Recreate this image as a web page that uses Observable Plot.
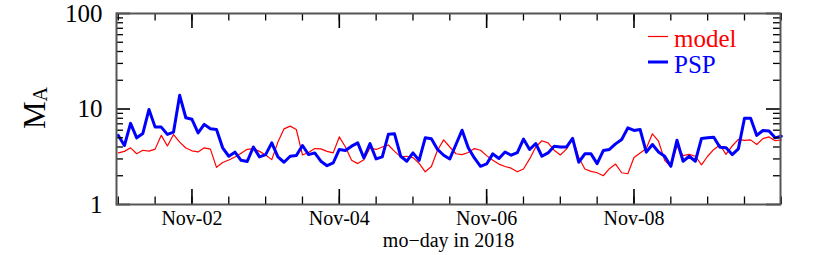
<!DOCTYPE html>
<html><head><meta charset="utf-8">
<script src="https://cdn.jsdelivr.net/npm/d3@7"></script>
<script src="https://cdn.jsdelivr.net/npm/@observablehq/plot@0.6"></script>
<style>body{margin:0;background:#fff}</style>
</head><body><div id="chart"></div>
<script>
const startTime = Date.UTC(2018, 10, 1);
const cadenceHours = 2;
const psp = [
  5.29, 4.15, 7.07, 4.99, 5.55, 9.9, 6.46, 6.46, 5.42, 5.73,
  13.9, 8.1, 7.8, 5.63, 6.9, 6.2, 6.1, 3.92, 3.2, 3.53,
  2.9, 2.82, 4.0, 3.15, 3.33, 4.42, 3.15, 2.77, 3.2, 3.26,
  4.15, 3.33, 3.47, 2.84, 2.55, 2.72, 3.77, 3.67, 4.08, 4.42,
  3.07, 4.35, 3.0, 3.15, 5.45, 5.5, 3.2, 2.84, 3.47, 2.9,
  4.99, 4.87, 3.77, 3.28, 3.0, 4.25, 6.0, 3.92, 3.07, 2.51,
  2.66, 3.39, 3.03, 3.55, 3.28, 3.5, 4.85, 3.77, 4.35, 3.2,
  3.47, 4.08, 4.0, 4.0, 4.92, 2.77, 3.39, 3.39, 2.68, 3.67,
  3.77, 4.31, 4.8, 6.35, 5.96, 6.1, 3.53, 4.25, 3.55, 3.2,
  2.51, 4.71, 2.84, 3.2, 2.84, 4.92, 4.99, 5.07, 3.98, 3.92,
  3.33, 3.82, 7.99, 7.99, 5.29, 5.96, 5.87, 4.99, 5.19
];
const model = [
  3.47, 3.6, 3.92, 3.4, 3.7, 3.62, 3.8, 5.3, 4.1, 5.4,
  4.5, 3.9, 3.65, 3.55, 3.92, 3.8, 2.45, 2.75, 2.92, 3.15,
  3.45, 3.78, 3.85, 3.6, 3.3, 2.95, 4.5, 6.2, 6.62, 6.1,
  3.3, 3.5, 3.85, 3.82, 3.6, 3.47, 5.1, 4.0, 2.9, 2.68,
  2.95, 3.9, 3.77, 4.0, 4.2, 3.6, 3.15, 3.2, 3.1, 2.7,
  2.2, 2.5, 3.7, 4.75, 4.0, 3.4, 3.33, 3.5, 3.85, 3.7,
  3.25, 2.9, 2.65, 2.5, 2.4, 2.2, 2.35, 3.0, 4.0, 4.65,
  4.42, 3.7, 3.3, 3.8, 5.0, 3.1, 2.35, 2.22, 2.15, 2.0,
  2.37, 2.65, 2.15, 2.1, 3.1, 3.47, 3.85, 5.5, 4.6, 2.9,
  2.5, 4.1, 3.25, 3.35, 3.2, 2.6, 3.2, 3.77, 4.2, 3.35,
  4.1, 4.8, 4.7, 4.75, 4.25, 4.9, 5.1, 4.65, 4.75
];
const xTickDates = ["2018-11-02", "2018-11-04", "2018-11-06", "2018-11-08"];
const xTickLabels = ["Nov-02", "Nov-04", "Nov-06", "Nov-08"];
const yMajor = [1, 10, 100];
const yLabels = ["1", "10", "100"];
const yMinor = [2, 3, 4, 5, 6, 7, 8, 9, 20, 30, 40, 50, 60, 70, 80, 90];
const xLabel = "mo\u2212day in 2018";
const seriesNames = ["model", "PSP"];
const seriesColors = ["#ff0000", "#0000ff"];

const toRows = arr => arr.map((v, i) => ({t: new Date(startTime + i * cadenceHours * 3600e3), v}));
const pspRows = toRows(psp);
const modelRows = toRows(model);
const majorX = xTickDates.map(d => new Date(d + "T00:00Z"));
const minorX = d3.utcHour.every(12).range(new Date("2018-11-01T00:00Z"), new Date("2018-11-10T00:01Z"));

const W = 830, H = 255, mL = 116, mR = 50, mT = 13, mB = 51;
const plotH = H - mT - mB, plotW = W - mL - mR;
const FONT = "'Liberation Serif', 'DejaVu Serif', serif";

const chart = Plot.plot({
  width: W, height: H, marginLeft: mL, marginRight: mR, marginTop: mT, marginBottom: mB,
  style: {fontFamily: FONT, background: "#fff", color: "#000"},
  x: {type: "utc", domain: [new Date("2018-10-31T23:25Z"), new Date("2018-11-09T23:44Z")], axis: null},
  y: {type: "log", domain: [1, 100], axis: null},
  marks: [
    Plot.line(modelRows, {x: "t", y: "v", stroke: seriesColors[0], strokeWidth: 1.2}),
    Plot.line(pspRows, {x: "t", y: "v", stroke: seriesColors[1], strokeWidth: 3}),
    Plot.tickX(minorX, {stroke: "#000", strokeWidth: 1.3, insetTop: plotH - 7.5}),
    Plot.tickX(minorX, {stroke: "#000", strokeWidth: 1.3, insetBottom: plotH - 7.5}),
    Plot.tickX(majorX, {stroke: "#000", strokeWidth: 1.6, insetTop: plotH - 15}),
    Plot.tickX(majorX, {stroke: "#000", strokeWidth: 1.6, insetBottom: plotH - 15}),
    Plot.tickY(yMinor, {stroke: "#000", strokeWidth: 1.3, insetRight: plotW - 7}),
    Plot.tickY(yMinor, {stroke: "#000", strokeWidth: 1.3, insetLeft: plotW - 7}),
    Plot.tickY(yMajor, {stroke: "#000", strokeWidth: 1.6, insetRight: plotW - 14}),
    Plot.tickY(yMajor, {stroke: "#000", strokeWidth: 1.6, insetLeft: plotW - 14}),
    Plot.frame({stroke: "#555", strokeWidth: 2}),
    Plot.text(majorX, {x: d => d, text: (d, i) => xTickLabels[i], frameAnchor: "bottom", lineAnchor: "top", dy: 6, fontSize: 20, fill: "#000"}),
    Plot.text(yMajor, {y: d => d, text: (d, i) => yLabels[i], frameAnchor: "left", textAnchor: "end", dx: -14, fontSize: 25, fill: "#000"}),
    Plot.text([xLabel], {text: d => d, frameAnchor: "bottom", lineAnchor: "top", dy: 28, fontSize: 20, fill: "#000"})
  ]
});
document.getElementById("chart").appendChild(chart);

const svg = d3.select(chart);
// y axis label M_A
const yl = svg.append("text")
  .attr("transform", "translate(45,108) rotate(-90)")
  .attr("text-anchor", "middle")
  .attr("font-family", FONT)
  .attr("fill", "#000");
yl.append("tspan").attr("font-size", 31).text("M");
yl.append("tspan").attr("font-size", 20).attr("dy", 2).text("A");

// legend
const legY = [36.5, 62];
const legW = [1.2, 3];
seriesNames.forEach((name, i) => {
  svg.append("line").attr("x1", 648).attr("x2", 668).attr("y1", legY[i]).attr("y2", legY[i])
    .attr("stroke", seriesColors[i]).attr("stroke-width", legW[i]);
  svg.append("text").attr("x", 674).attr("y", legY[i] + 10.5)
    .attr("text-anchor", "start")
    .attr("font-family", FONT).attr("font-size", 25).attr("fill", seriesColors[i]).text(name);
});
</script>
</body></html>
